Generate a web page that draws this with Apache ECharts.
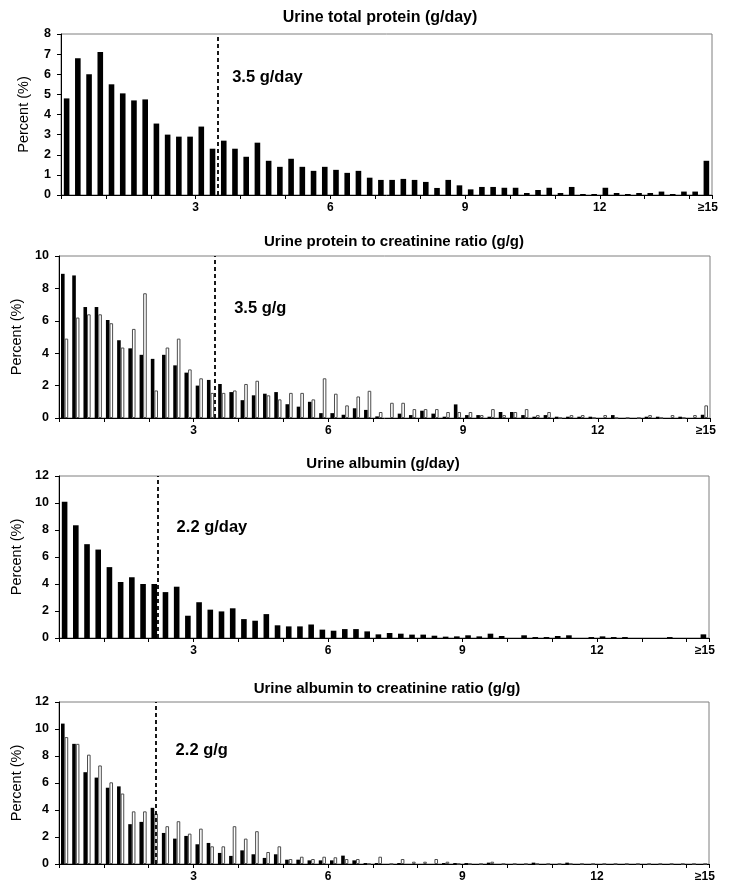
<!DOCTYPE html>
<html><head><meta charset="utf-8">
<script src="https://cdn.jsdelivr.net/npm/echarts@6/dist/echarts.min.js"></script>
<style>html,body{margin:0;padding:0;background:#fff}#c{width:729px;height:893px}</style>
</head><body><div id="c"></div>
<script>
// ---- data ----
const binWidth = 0.25;           // g per bin
const xTickLabels = {3:'3', 6:'6', 9:'9', 12:'12', 14.5:'≥15'};
const titles = [
  'Urine total protein (g/day)',
  'Urine protein to creatinine ratio (g/g)',
  'Urine albumin (g/day)',
  'Urine albumin to creatinine ratio (g/g)'
];
const totalProteinDay = [4.8,6.8,6.0,7.1,5.5,5.05,4.7,4.75,3.55,3.0,
  2.9,2.9,3.4,2.3,2.7,2.3,1.9,2.6,1.7,1.4,
  1.8,1.4,1.2,1.4,1.25,1.1,1.2,0.86,0.75,0.75,
  0.8,0.75,0.65,0.35,0.75,0.48,0.28,0.4,0.4,0.36,
  0.36,0.1,0.25,0.36,0.1,0.4,0.05,0.05,0.36,0.1,
  0.05,0.1,0.1,0.17,0.05,0.17,0.17,1.7];
const pcrBlack = [8.9,8.8,6.85,6.85,6.05,4.8,4.3,3.9,3.65,3.9,
  3.25,2.8,2.0,2.35,2.1,1.6,1.1,1.4,1.5,1.6,
  0.85,0.7,1.0,0.3,0.3,0.2,0.6,0.5,0.1,0,
  0.27,0.18,0.45,0.27,0.08,0.84,0.18,0.18,0.08,0.37,
  0.37,0.18,0.08,0.18,0.08,0.08,0.08,0.08,0,0.18,
  0,0,0.08,0.08,0,0.08,0,0.2];
const pcrWhite = [4.9,6.2,6.4,6.4,5.85,4.35,5.5,7.7,1.7,4.35,
  4.9,3.0,2.45,1.55,1.55,1.7,2.1,2.3,1.4,1.15,
  1.55,1.55,1.15,2.45,1.5,0.78,1.33,1.68,0.37,0.94,
  0.94,0.55,0.55,0.55,0.37,0.37,0.37,0.18,0.55,0.18,
  0.37,0.55,0.18,0.37,0,0.18,0.18,0,0.18,0,
  0,0,0.18,0,0.18,0,0.18,0.78];
const albuminDay = [10.1,8.35,6.95,6.55,5.25,4.15,4.5,4.0,4.0,3.4,
  3.8,1.65,2.65,2.1,1.97,2.2,1.4,1.28,1.77,0.94,
  0.86,0.86,1.0,0.62,0.54,0.66,0.66,0.49,0.27,0.37,
  0.32,0.25,0.25,0.17,0.1,0.12,0.2,0.12,0.32,0.15,
  0,0.2,0.07,0.07,0.15,0.2,0,0.07,0.12,0.07,
  0.07,0,0,0,0.07,0,0,0.27];
const acrBlack = [10.4,8.9,6.8,6.4,5.65,5.75,2.95,3.12,4.16,2.3,
  1.88,2.08,1.46,1.56,0.82,0.6,1.01,0.72,0.45,0.72,
  0.32,0.32,0.27,0.27,0.27,0.62,0.27,0.07,0.07,0,
  0.07,0,0,0,0.07,0.07,0.07,0,0.1,0,
  0,0,0.1,0,0,0.1,0,0,0,0,
  0,0,0,0,0,0,0,0];
const acrWhite = [9.4,8.9,8.1,7.3,6.05,5.22,3.9,3.9,3.74,2.8,
  3.17,2.25,2.62,1.31,1.31,2.8,1.88,2.43,0.89,1.31,
  0.37,0.54,0.37,0.54,0.5,0.37,0.37,0,0.54,0,
  0.37,0.17,0.17,0.37,0.17,0,0,0,0.17,0,
  0,0,0,0,0,0,0,0,0,0,
  0,0,0,0,0,0,0,0];
const thresholds = [3.5, 3.5, 2.2, 2.2];
const thresholdLabels = ['3.5 g/day', '3.5 g/g', '2.2 g/day', '2.2 g/g'];
const yMax = [8, 10, 12, 12];
const yInterval = [1, 2, 2, 2];
const panelSeries = [[totalProteinDay], [pcrBlack, pcrWhite], [albuminDay], [acrBlack, acrWhite]];

// ---- layout / style ----
const FONT = 'Arial, "Liberation Sans", Helvetica, sans-serif';
const grids = [
  {left: 61, top: 34, width: 651, height: 161},
  {left: 59, top: 256, width: 651, height: 162},
  {left: 59, top: 476, width: 650, height: 162},
  {left: 59, top: 702, width: 650, height: 162}
];
const titleCenters = [380, 394, 383, 387];
const titleTops = [10, 234, 456, 681];
const titleSizes = [16, 15, 15, 15];
const annotY = [5.82, 6.79, 8.22, 8.41];
const annotDx = [14, 18, 19, 18];
const xMax = panelSeries[0][0].length * binWidth;

const chart = echarts.init(document.getElementById('c'), null, {renderer: 'canvas'});

const option = {
  animation: false,
  backgroundColor: '#fff',
  title: titles.map((t, k) => ({
    text: t, left: titleCenters[k], top: titleTops[k], textAlign: 'center', padding: 0,
    textStyle: {fontFamily: FONT, fontSize: titleSizes[k], fontWeight: 'bold', color: '#000'}
  })),
  grid: grids.map(g => Object.assign({show: true, borderColor: '#7f7f7f', borderWidth: 1, backgroundColor: 'transparent', containLabel: false}, g)),
  xAxis: grids.map((g, k) => ({
    type: 'value', gridIndex: k, min: 0, max: xMax, interval: 1,
    axisLine: {show: true, lineStyle: {color: '#000', width: 1}},
    axisTick: {show: true, inside: false, length: 4, lineStyle: {color: '#000'}},
    splitLine: {show: false},
    axisLabel: {
      show: true, showMaxLabel: true, showMinLabel: true, margin: 7,
      fontFamily: FONT, fontSize: 12, fontWeight: 'bold', color: '#000',
      formatter: v => {
        const key = Math.round(v * 100) / 100;
        const s = xTickLabels[key];
        if (!s) return '';
        return key === xMax ? '{e|' + s + '}' : s;
      },
      rich: {e: {fontFamily: FONT, fontSize: 12, fontWeight: 'bold', color: '#000', padding: [0, 8, 0, 0]}}
    }
  })),
  yAxis: grids.map((g, k) => ({
    type: 'value', gridIndex: k, min: 0, max: yMax[k], interval: yInterval[k],
    name: 'Percent (%)', nameLocation: 'middle', nameGap: 30,
    nameTextStyle: {fontFamily: FONT, fontSize: 14.5, color: '#000'},
    axisLine: {show: true, lineStyle: {color: '#000', width: 1}},
    axisTick: {show: true, inside: false, length: 4, lineStyle: {color: '#000'}},
    splitLine: {show: false},
    axisLabel: {margin: 10, fontFamily: FONT, fontSize: 12.5, fontWeight: 'bold', color: '#000'}
  })),
  series: []
};

panelSeries.forEach((list, k) => {
  const two = list.length === 2;
  list.forEach((vals, s) => {
    const ser = {
      type: 'bar', xAxisIndex: k, yAxisIndex: k,
      data: vals.map((v, i) => [(i + 0.5) * binWidth, v]),
      barWidth: two ? 3.6 : 5.6,
      barGap: '0%',
      itemStyle: s === 0 ? {color: '#000'} : {color: '#fff', borderColor: '#4d4d4d', borderWidth: 1},
      emphasis: {disabled: true},
      silent: true
    };
    if (s === 0) {
      ser.markLine = {
        silent: true, symbol: 'none', label: {show: false},
        lineStyle: {color: '#000', type: [4, 3], width: 1.8},
        data: [{xAxis: thresholds[k]}]
      };
    }
    option.series.push(ser);
  });
});

chart.setOption(option);

const graphics = thresholds.map((t, k) => {
  const p = chart.convertToPixel({gridIndex: k}, [t, annotY[k]]);
  return {
    type: 'text', x: p[0] + annotDx[k], y: p[1], silent: true,
    style: {text: thresholdLabels[k], fontFamily: FONT, fontSize: 16.5, fontWeight: 'bold', fill: '#000', verticalAlign: 'middle', align: 'left'}
  };
});
chart.setOption({graphic: graphics});
</script>
</body></html>
